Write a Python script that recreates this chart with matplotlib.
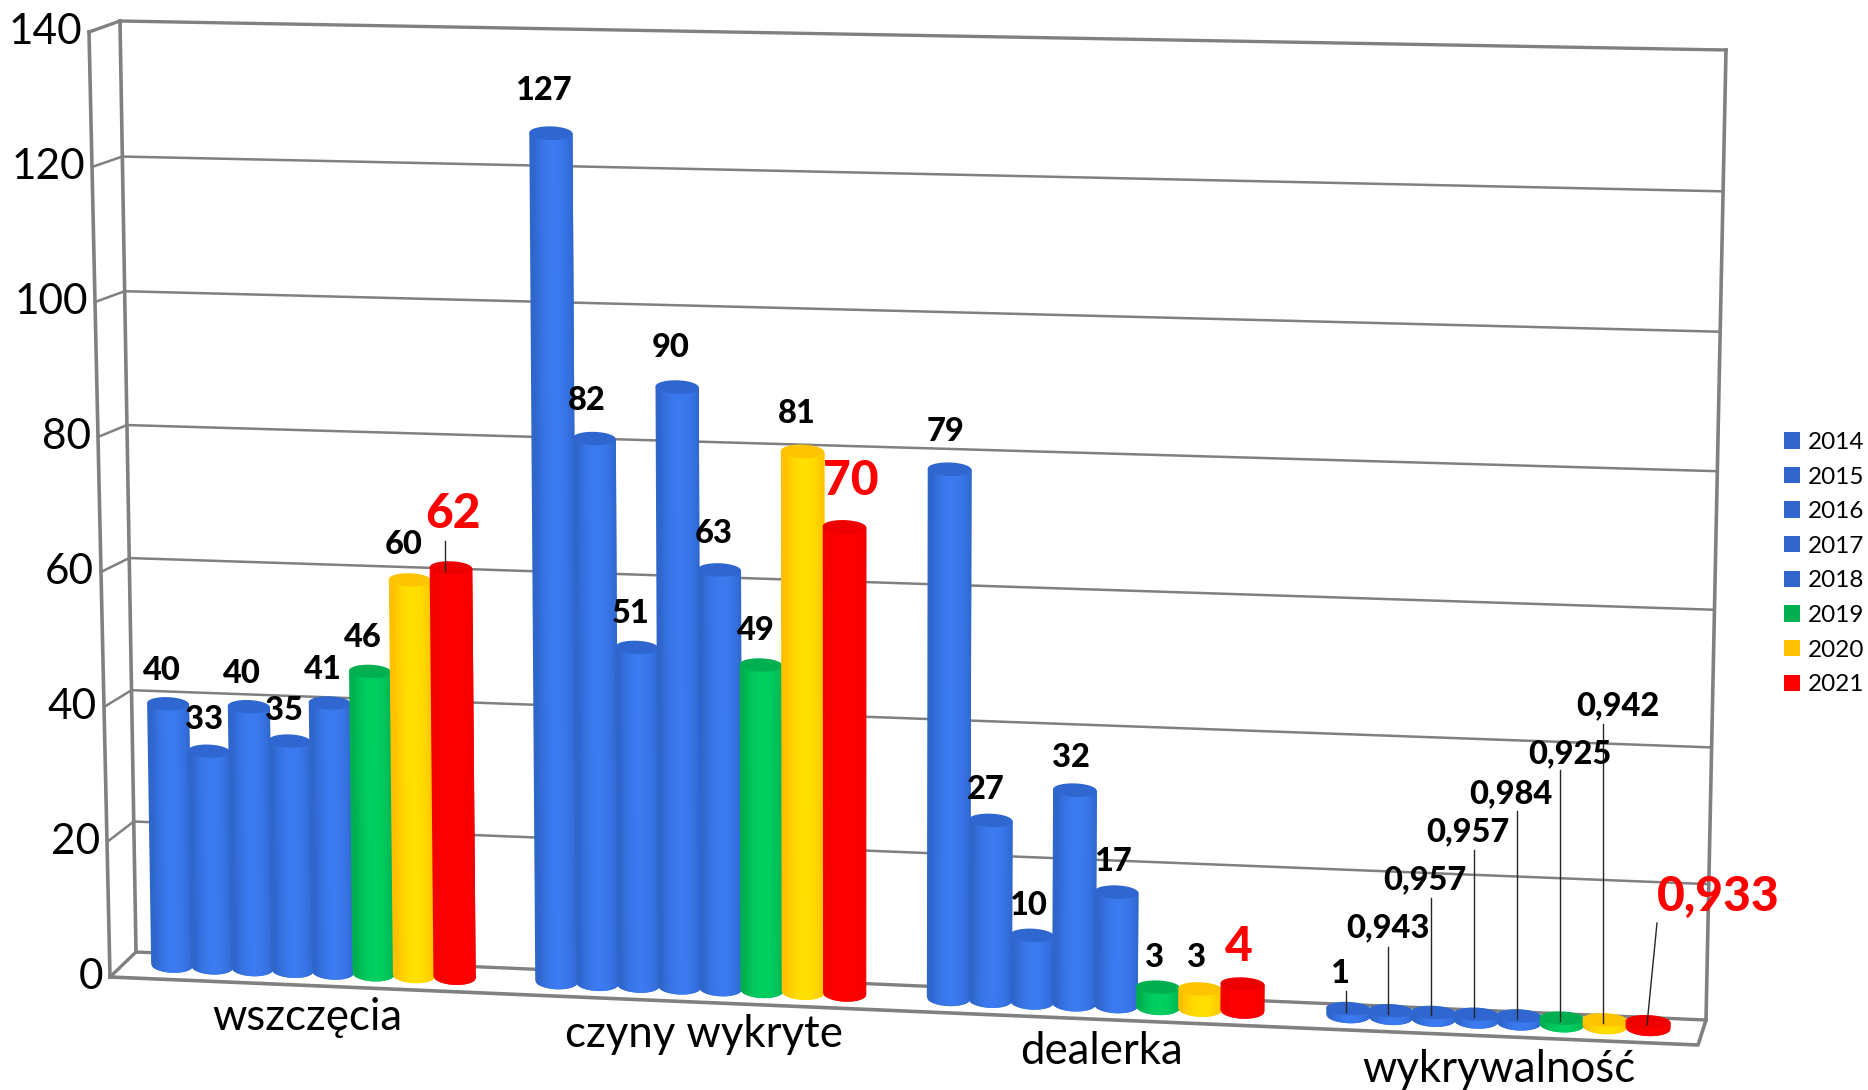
import numpy as np
import matplotlib
matplotlib.use("Agg")
import matplotlib.pyplot as plt
from matplotlib.patches import Polygon, Patch
from matplotlib.transforms import Transform

plt.rcParams['font.family'] = ['Lato', 'DejaVu Sans']

#data
years = [2014, 2015, 2016, 2017, 2018, 2019, 2020, 2021]
categories = ["wszczęcia", "czyny wykryte", "dealerka", "wykrywalność"]
wszczecia = [40, 33, 40, 35, 41, 46, 60, 62]
czyny = [127, 82, 51, 90, 63, 49, 81, 70]
dealerka = [79, 27, 10, 32, 17, 3, 3, 4]
wykrywalnosc = [1, 0.943, 0.957, 0.957, 0.984, 0.925, 0.942, 0.933]
yticks = [0, 20, 40, 60, 80, 100, 120, 140]

#label places in picture pixels, centre of the digits
label_xy = [
    [(162, 668), (204, 717), (242, 671), (284, 708), (323, 667), (363, 635), (404, 542), (453, 511)],
    [(543, 88), (587, 398), (631, 611), (671, 345), (714, 531), (756, 628), (797, 411), (851, 478)],
    [(945, 429), (986, 787), (1028, 903), (1071, 755), (1113, 859), (1154, 955), (1197, 955), (1239, 944)],
    [(1339, 971), (1388, 926), (1425, 877), (1468, 829), (1511, 791), (1570, 751), (1618, 703), (1718, 894)],
]
#thin leader lines: top end, and the x where they meet the bar
leader_tops = {(0, 7): (445, 541, 445), (3, 0): (1346, 991, 1346), (3, 1): (1388, 947, 1388),
               (3, 2): (1431, 898, 1431), (3, 3): (1474, 850, 1474), (3, 4): (1517, 811, 1517),
               (3, 5): (1560, 770, 1560), (3, 6): (1603, 724, 1603), (3, 7): (1657, 923, 1647)}
cat_xy = [(307, 1030), (704, 1047), (1102, 1064), (1499, 1082)]

#body colours: edge, middle, top
blue = ("#2f66cc", "#3b7af0", "#2f66cf")
green = ("#00b050", "#00d060", "#00b050")
yellow = ("#ffc000", "#ffe000", "#ffc400")
red = ("#f40000", "#ff0000", "#ee0000")
bar_colors = [blue, blue, blue, blue, blue, green, yellow, red]
legend_colors = ["#3366cc", "#3366cc", "#3366cc", "#3366cc", "#3366cc", "#00b050", "#ffc000", "#ff0000"]
GREY = "#808080"


class Homography(Transform):
    #maps a flat plane onto its perspective view
    input_dims = 2
    output_dims = 2
    has_inverse = False
    is_separable = False

    def __init__(self, src, dst):
        super().__init__()
        a = []
        b = []
        for (x, y), (X, Y) in zip(src, dst):
            a.append([x, y, 1, 0, 0, 0, -x * X, -y * X])
            a.append([0, 0, 0, x, y, 1, -x * Y, -y * Y])
            b += [X, Y]
        self.m = np.append(np.linalg.solve(np.array(a, float), np.array(b, float)), 1).reshape(3, 3)

    def transform_non_affine(self, values):
        values = np.asarray(values, float)
        pts = np.column_stack([values, np.ones(len(values))]) @ self.m.T
        return pts[:, :2] / pts[:, 2:]


fig = plt.figure(figsize=(18.68, 10.90), dpi=100)
ax = fig.add_axes([0, 0, 1, 1])
ax.set_xlim(0, 1868)
ax.set_ylim(1090, 0)
ax.axis("off")
ax.set_autoscale_on(False)

back = Homography([(0, 0), (1, 0), (1, 140), (0, 140)], [(136, 952), (1706, 1020), (1726, 50), (120, 21)])
GROUP_STEP = 9.5
u_max = 3 * GROUP_STEP + 7
plane = Homography([(0, 0), (u_max, 0), (u_max, 140), (0, 140)],
                   [(172, 965), (1648, 1028), (1665, 66), (158, 37)])
back_tr = back + ax.transData
plane_tr = plane + ax.transData


def front_edge(v):
    #front edge of the left side wall
    return 110 - 21 * v / 140, 977 - 945 * v / 140


#walls
for v in yticks:
    lw = 2.4 if v in (0, 140) else 1.8
    ax.plot([0, 1], [v, v], color=GREY, lw=lw, transform=back_tr, zorder=1)
    fx, fy = front_edge(v)
    bx, by = back.transform(np.array([[0.0, v]]))[0]
    ax.plot([fx, bx], [fy, by], color=GREY, lw=lw, zorder=1)
    ax.text(fx - 7, fy + 12, str(v), fontsize=30.5, ha="right", va="baseline", color="black", zorder=5)
ax.plot([1, 1], [0, 140], color=GREY, lw=2.6, transform=back_tr, zorder=1)
ax.plot([0, 0], [0, 140], color=GREY, lw=2.6, transform=back_tr, zorder=1)
ax.plot([front_edge(0)[0], front_edge(140)[0]], [front_edge(0)[1], front_edge(140)[1]], color=GREY, lw=2.6, zorder=1)
ax.plot([110, 1698, 1706], [977, 1045, 1020], color=GREY, lw=2.6, zorder=1)


def mix(c1, c2, t):
    a = np.array(matplotlib.colors.to_rgb(c1))
    b = np.array(matplotlib.colors.to_rgb(c2))
    return a + (b - a) * t


def cylinder(u, value, cols, z):
    #body built from thin strips for the round shading, each one lies over the last
    w = 0.52
    drop = 1.2
    cap = 1.0
    edges = np.linspace(-1, 1, 29)
    for s0, s1 in zip(edges[:-1], edges[1:]):
        mid = (s0 + s1) / 2
        t = max(0, 1 - abs(mid - 0.1) ** 2 * 1.2)
        c = mix(cols[0], cols[1], t)
        s2 = min(1, s1 + 0.07)
        arc = np.linspace(s0, s2, 4)
        low = [(u + s * w, -drop * np.sqrt(1 - s ** 2)) for s in arc]
        xy = low + [(u + s2 * w, value), (u + s0 * w, value)]
        ax.add_patch(Polygon(xy, closed=True, fc=c, ec="none", lw=0, transform=plane_tr, zorder=z))
    a = np.linspace(0, 2 * np.pi, 60)
    top = np.column_stack([u + w * np.cos(a), value + cap * np.sin(a)])
    ax.add_patch(Polygon(top, closed=True, fc=cols[2], ec="none", lw=0, transform=plane_tr, zorder=z))


series = [wszczecia, czyny, dealerka, wykrywalnosc]
for g, vals in enumerate(series):
    for i, v in enumerate(vals):
        u = g * GROUP_STEP + i
        cylinder(u, v, bar_colors[i], 2 + (g * 8 + i) * 0.01)
        big = i == 7
        size = 34.5 if big else 23.5
        px = size / 0.72
        lx, ly = label_xy[g][i]
        ax.text(lx, ly + 0.36 * px, str(v).replace(".", ","), fontsize=size, fontweight=900,
                color="#ff0000" if big else "black", ha="center", va="baseline", zorder=6)
        if (g, i) in leader_tops:
            x0, y0, x1 = leader_tops[(g, i)]
            y1 = plane.transform(np.array([[u, float(v)]]))[0][1]
            ax.plot([x0, x1], [y0, y1 + 3], color="#262626", lw=1.0, zorder=5)

for name, (x, y) in zip(categories, cat_xy):
    ax.text(x, y, name, fontsize=31.5, ha="center", va="baseline", color="black", zorder=5)

handles = [Patch(facecolor=c, edgecolor="none", label=str(y)) for c, y in zip(legend_colors, years)]
leg = ax.legend(handles=handles, loc="upper left", bbox_to_anchor=(1784 / 1868, 1 - 432 / 1090),
                frameon=False, fontsize=17.5, borderpad=0, borderaxespad=0, labelspacing=0.56,
                handlelength=0.66, handleheight=0.66, handletextpad=0.32)

fig.savefig("out.png", dpi=100, facecolor="white")
